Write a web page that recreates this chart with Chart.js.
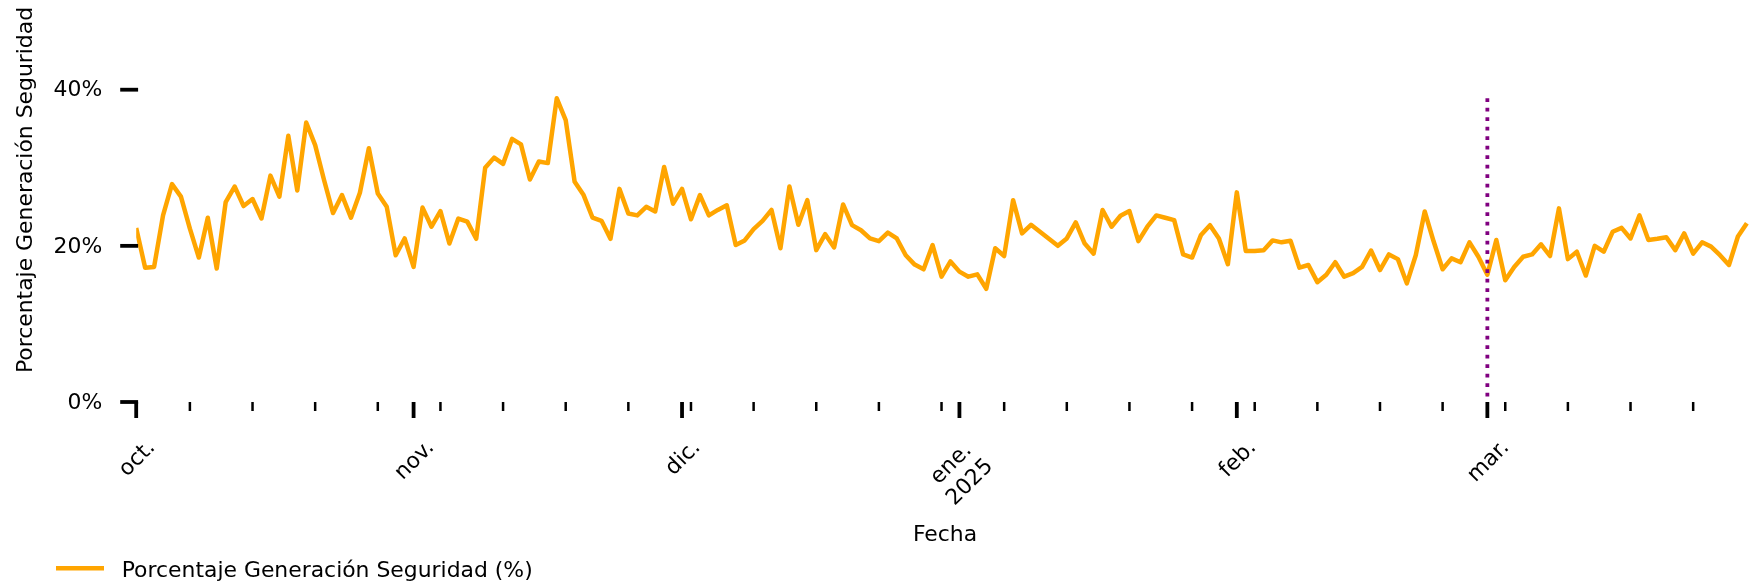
<!DOCTYPE html>
<html>
<head>
<meta charset="utf-8">
<script src="https://cdn.jsdelivr.net/npm/chart.js@4.4.1/dist/chart.umd.min.js"></script>
<style>
  html, body { margin: 0; padding: 0; background: #fff; }
  canvas { display: block; }
</style>
</head>
<body>
<canvas id="grafico" width="1749" height="585"></canvas>
<script>
// ==========================
// DATOS (día 0 = 1 oct. 2024)
// ==========================
const serieNombre = 'Porcentaje Generación Seguridad (%)';

const valores = [
  22.3, 17.2, 17.3, 23.9, 27.9, 26.3, 22.2, 18.5, 23.6, 17.1,
  25.6, 27.6, 25.1, 26.0, 23.5, 29.0, 26.3, 34.1, 27.1, 35.8,
  32.9, 28.4, 24.2, 26.5, 23.6, 26.8, 32.5, 26.7, 25.0, 18.8,
  20.95, 17.3, 24.9, 22.45, 24.45, 20.3, 23.5, 23.1, 20.9, 30.0,
  31.3, 30.5, 33.7, 33.0, 28.5, 30.8, 30.6, 38.9, 36.1, 28.2,
  26.5, 23.6, 23.2, 20.9, 27.3, 24.15, 23.9, 25.0, 24.4, 30.1,
  25.4, 27.3, 23.4, 26.5, 23.9, 24.6, 25.2, 20.1, 20.7, 22.15,
  23.2, 24.6, 19.7, 27.6, 22.7, 25.85, 19.45, 21.5, 19.8, 25.3,
  22.65, 22.0, 20.95, 20.6, 21.7, 20.95, 18.8, 17.6, 17.0, 20.1,
  16.05, 18.0, 16.7, 16.05, 16.35, 14.5, 19.7, 18.7, 25.85, 21.6,
  22.7, 21.8, 20.9, 20.0, 20.95, 23.0, 20.3, 19.0, 24.6, 22.45,
  23.85, 24.45, 20.6, 22.45, 23.9, 23.6, 23.3, 18.9, 18.5, 21.4,
  22.65, 20.95, 17.65, 26.85, 19.35, 19.35, 19.45, 20.7, 20.45, 20.65,
  17.2, 17.55, 15.35, 16.3, 17.9, 16.05, 16.5, 17.3, 19.4, 16.9,
  18.9, 18.3, 15.2, 18.8, 24.4, 20.55, 17.0, 18.4, 17.9, 20.45,
  18.6, 16.3, 20.75, 15.6, 17.3, 18.6, 18.9, 20.2, 18.7, 24.8,
  18.3, 19.25, 16.2, 20.0, 19.25, 21.8, 22.3, 20.95, 23.9, 20.75,
  20.9, 21.1, 19.45, 21.6, 19.0, 20.45, 19.9, 18.8, 17.55, 21.2,
  22.9
];

// ticks principales: primer día de cada mes
const mesesDias = [0, 31, 61, 92, 123, 151];
const mesesEtiquetas = ['oct.', 'nov.', 'dic.', ['ene.', '2025'], 'feb.', 'mar.'];
// ticks menores: lunes
const lunesDias = [6, 13, 20, 27, 34, 41, 48, 55, 62, 69, 76, 83, 90, 97, 104,
  111, 118, 125, 132, 139, 146, 153, 160, 167, 174];
const yTicks = [0, 20, 40];
const diaMarca = 151; // 1 mar. 2025

// ==========================
// ESTILO
// ==========================
const FUENTE = 'DejaVu Sans';
const TAM = 21.9;
const NARANJA = '#FFA500';
const MORADO = '#800080';

// ==========================
// PLUGIN EJES / TEXTOS
// ==========================
const ejes = {
  id: 'ejes',
  afterDatasetsDraw(chart) {
    const { ctx } = chart;
    const x = chart.scales.x, y = chart.scales.y;
    const px = x.getPixelForValue(diaMarca);
    ctx.save();
    ctx.strokeStyle = MORADO;
    ctx.lineWidth = 3.8;
    ctx.lineCap = 'butt';
    ctx.setLineDash([3.6, 5.9]);
    ctx.beginPath();
    ctx.moveTo(px, y.getPixelForValue(Math.max(...valores)));
    ctx.lineTo(px, y.getPixelForValue(0));
    ctx.stroke();
    ctx.restore();
  },
  afterDraw(chart) {
    const { ctx, chartArea } = chart;
    const x = chart.scales.x, y = chart.scales.y;
    const base = y.getPixelForValue(0);
    ctx.save();
    ctx.strokeStyle = '#000';
    ctx.fillStyle = '#000';
    ctx.lineCap = 'butt';
    ctx.font = TAM + 'px "' + FUENTE + '"';

    // ticks eje y
    ctx.lineWidth = 3.8;
    ctx.textAlign = 'right';
    ctx.textBaseline = 'middle';
    yTicks.forEach(v => {
      const py = y.getPixelForValue(v);
      ctx.beginPath();
      ctx.moveTo(chartArea.left - 16, py);
      ctx.lineTo(chartArea.left + 1.9, py);
      ctx.stroke();
      ctx.fillText(v + '%', chartArea.left - 34, py + 1);
    });

    // ticks menores eje x
    ctx.lineWidth = 2.5;
    lunesDias.forEach(d => {
      const px = x.getPixelForValue(d);
      ctx.beginPath();
      ctx.moveTo(px, base);
      ctx.lineTo(px, base + 9);
      ctx.stroke();
    });

    // ticks principales eje x + etiquetas giradas
    ctx.lineWidth = 3.8;
    const H = TAM * 1.164;
    const interlinea = TAM * 1.2;
    mesesDias.forEach((d, i) => {
      const px = x.getPixelForValue(d);
      ctx.beginPath();
      ctx.moveTo(px, base);
      ctx.lineTo(px, base + 16);
      ctx.stroke();

      const lineas = [].concat(mesesEtiquetas[i]);
      const w = Math.max(...lineas.map(t => ctx.measureText(t).width));
      const hBloque = H + interlinea * (lineas.length - 1);
      const cy = 434 + (w + hBloque) / (2 * Math.SQRT2);
      ctx.save();
      ctx.translate(px, cy);
      ctx.rotate(-Math.PI / 4);
      ctx.textAlign = 'center';
      ctx.textBaseline = 'alphabetic';
      lineas.forEach((t, k) => {
        const off = (k - (lineas.length - 1) / 2) * interlinea;
        ctx.fillText(t, 0, off + 0.346 * TAM);
      });
      ctx.restore();
    });

    // título eje x
    ctx.textAlign = 'center';
    ctx.textBaseline = 'alphabetic';
    ctx.fillText('Fecha', 945, 540.5);

    // título eje y
    ctx.save();
    ctx.translate(31.5, 167.6);
    ctx.rotate(-Math.PI / 2);
    ctx.textAlign = 'center';
    ctx.fillText(serieNombre, 0, 0);
    ctx.restore();

    // leyenda
    const ds = chart.data.datasets[0];
    ctx.strokeStyle = ds.borderColor;
    ctx.lineWidth = ds.borderWidth;
    ctx.beginPath();
    ctx.moveTo(56, 568.3);
    ctx.lineTo(104, 568.3);
    ctx.stroke();
    ctx.textAlign = 'left';
    ctx.fillText(ds.label, 121.7, 577);
    ctx.restore();
  }
};

// ==========================
// GRÁFICO
// ==========================
new Chart(document.getElementById('grafico'), {
  type: 'line',
  data: {
    datasets: [{
      label: serieNombre,
      data: valores.map((v, i) => ({ x: i, y: v })),
      borderColor: NARANJA,
      borderWidth: 4.5,
      borderJoinStyle: 'round',
      pointRadius: 0,
      tension: 0,
      fill: false
    }]
  },
  options: {
    responsive: false,
    animation: false,
    devicePixelRatio: 1,
    layout: { padding: { left: 136.2, right: 0, top: 0, bottom: 183 } },
    plugins: { legend: { display: false }, tooltip: { enabled: false } },
    scales: {
      x: { type: 'linear', display: false, min: 0, max: 180.24 },
      y: { type: 'linear', display: false, min: 0, max: 51.49 }
    }
  },
  plugins: [ejes]
});
</script>
</body>
</html>
